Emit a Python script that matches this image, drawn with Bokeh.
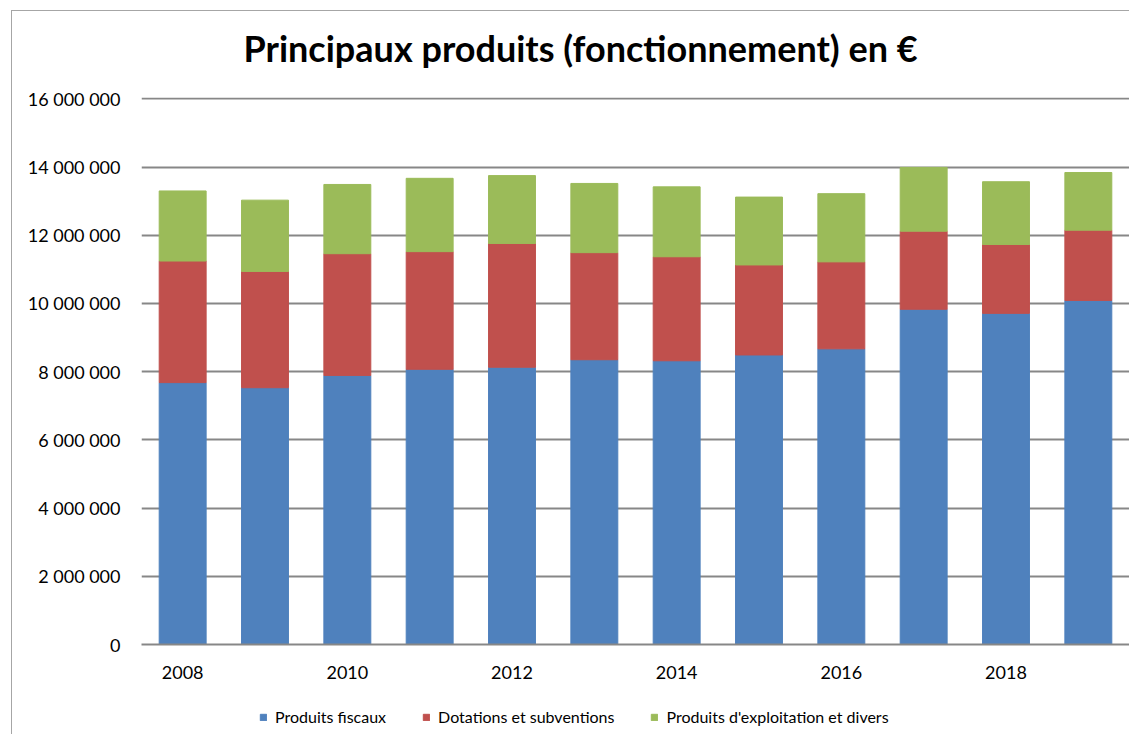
from bokeh.plotting import figure
from bokeh.layouts import column
from bokeh.models import ColumnDataSource, FixedTicker, CustomJSTickFormatter, Legend, Range1d
from bokeh.embed import file_html
from bokeh.resources import INLINE

years = [2008, 2009, 2010, 2011, 2012, 2013, 2014, 2015, 2016, 2017, 2018, 2019]
produits_fiscaux = [7680000, 7530000, 7890000, 8070000, 8130000, 8350000,
                    8320000, 8490000, 8670000, 9830000, 9710000, 10090000]
dotations = [3565000, 3410000, 3570000, 3450000, 3630000, 3140000,
             3050000, 2640000, 2550000, 2290000, 2020000, 2060000]
exploitation = [2055000, 2090000, 2030000, 2150000, 1990000, 2030000,
                2050000, 1990000, 2000000, 1870000, 1840000, 1690000]
year_ticks = [2008, 2010, 2012, 2014, 2016, 2018]
y_ticks = [0, 2000000, 4000000, 6000000, 8000000, 10000000, 12000000, 14000000, 16000000]
series = ["Produits fiscaux", "Dotations et subventions", "Produits d'exploitation et divers"]
colors = ["#4F81BD", "#C0504D", "#9BBB59"]
title_text = "Principaux produits (fonctionnement) en €"

source = ColumnDataSource(data={
    "year": years,
    "Produits fiscaux": produits_fiscaux,
    "Dotations et subventions": dotations,
    "Produits d'exploitation et divers": exploitation,
})

FONT = "Lato"

# ---- main chart ----
p = figure(frame_width=988, frame_height=547, output_backend="svg", toolbar_location=None,
           x_range=Range1d(2007.5, 2019.5), y_range=Range1d(0, 16040000),
           min_border_left=130, min_border_right=0, min_border_top=87, min_border_bottom=40,
           title=title_text)
p.border_fill_alpha = 0
p.background_fill_color = "#ffffff"

p.vbar_stack(series, x="year", width=0.57, source=source,
             fill_color=colors, line_color=colors, line_width=1)

p.title.align = "left"
p.title.offset = 102
p.title.text_font = FONT
p.title.text_font_size = "36px"
p.title.text_font_style = "bold"
p.title.text_color = "#000000"
p.title.standoff = 55

p.outline_line_color = None
p.xgrid.grid_line_color = None
p.ygrid.grid_line_color = "#878787"
p.ygrid.grid_line_width = 2

p.xaxis.ticker = FixedTicker(ticks=year_ticks)
p.xaxis.major_tick_line_color = None
p.xaxis.major_tick_out = 0
p.xaxis.major_tick_in = 0
p.xaxis.minor_tick_line_color = None
p.xaxis.axis_line_color = "#878787"
p.xaxis.axis_line_width = 2
p.xaxis.major_label_text_font = FONT
p.xaxis.major_label_text_font_size = "18px"
p.xaxis.major_label_text_color = "#000000"
p.xaxis.major_label_standoff = 21

p.yaxis.ticker = FixedTicker(ticks=y_ticks)
p.yaxis.formatter = CustomJSTickFormatter(
    code='return Math.round(tick).toString().replace(/\\B(?=(\\d{3})+(?!\\d))/g, " ");')
p.yaxis.axis_line_color = None
p.yaxis.major_tick_line_color = None
p.yaxis.major_tick_out = 0
p.yaxis.major_tick_in = 0
p.yaxis.minor_tick_line_color = None
p.yaxis.major_label_text_font = FONT
p.yaxis.major_label_text_font_size = "18px"
p.yaxis.major_label_text_color = "#000000"
p.yaxis.major_label_standoff = 21

# ---- legend strip (same series, drawn outside this strip's visible range) ----
p2 = figure(width=1118, height=50, output_backend="svg", toolbar_location=None,
            x_range=Range1d(0, 1), y_range=Range1d(0, 1),
            min_border_left=0, min_border_right=0, min_border_top=0, min_border_bottom=0)
p2.border_fill_alpha = 0
p2.background_fill_alpha = 0
p2.outline_line_color = None
p2.xaxis.visible = False
p2.yaxis.visible = False
p2.xgrid.visible = False
p2.ygrid.visible = False

legend_renderers = p2.vbar_stack(series, x="year", width=0.57, source=source,
                                 fill_color=colors, line_color=colors, line_width=1)

legend = Legend(items=[(s, [r]) for s, r in zip(series, legend_renderers)],
                orientation="horizontal", location=(118, 8))
legend.label_text_font = FONT
legend.label_text_font_size = "16px"
legend.label_text_color = "#000000"
legend.glyph_width = 8
legend.glyph_height = 8
legend.spacing = 36
legend.label_standoff = 8
legend.padding = 0
legend.margin = 0
legend.border_line_color = None
legend.background_fill_alpha = 0
p2.add_layout(legend, "center")

layout = column(p, p2, spacing=0)
layout.margin = (-4, 0, 0, 11)
layout.styles = {
    "background": ("linear-gradient(#a6a6a6, #a6a6a6) 0px 14px / 100% 1px no-repeat, "
                   "linear-gradient(#a6a6a6, #a6a6a6) 0px 14px / 1px 100% no-repeat, #ffffff"),
}

open("out.html", "w").write(file_html(layout, INLINE))
